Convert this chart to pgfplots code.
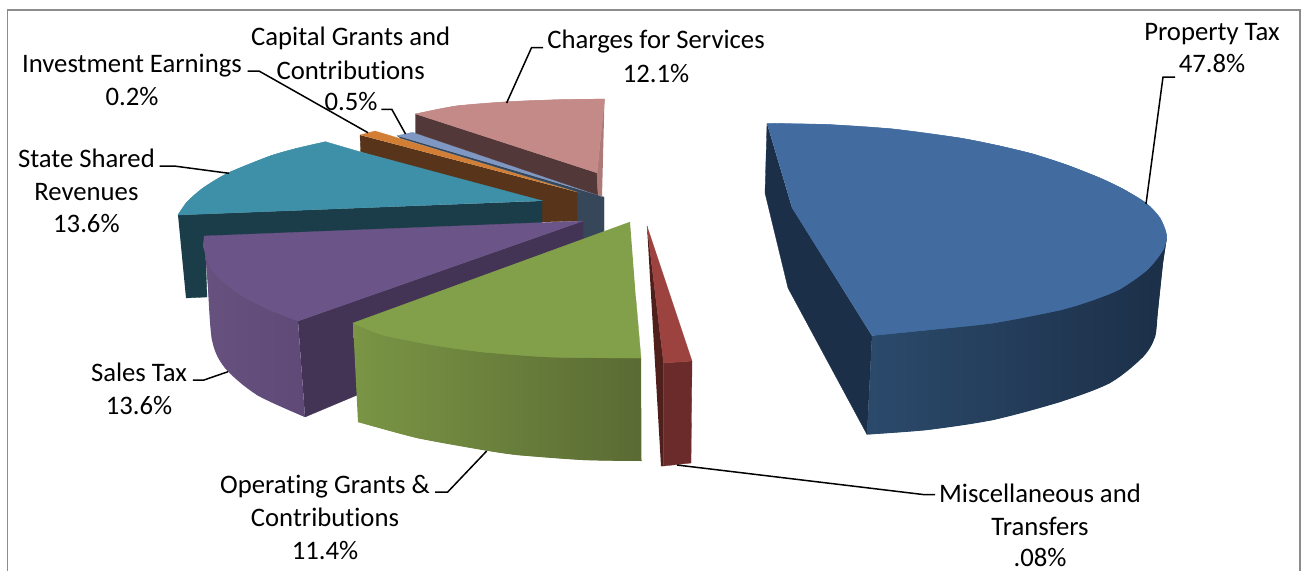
\documentclass[border=0pt]{standalone}
\usepackage{fontspec}
\setmainfont{Carlito}[Ligatures=NoCommon]
\usepackage{pgfplots}
\pgfplotsset{compat=1.18}
\definecolor{bT}{HTML}{426CA0}\definecolor{bW}{HTML}{1C2F48}\definecolor{bL}{HTML}{2B4A6B}
\definecolor{rT}{HTML}{9C4340}\definecolor{rF}{HTML}{6B2B2A}\definecolor{rW}{HTML}{4F1F1C}
\definecolor{gT}{HTML}{82A04A}\definecolor{gL}{HTML}{7A9545}\definecolor{gR}{HTML}{5A6B33}
\definecolor{pT}{HTML}{6B5487}\definecolor{pL}{HTML}{66517F}\definecolor{pF}{HTML}{5F4A77}\definecolor{pW}{HTML}{433354}
\definecolor{tT}{HTML}{3E90A8}\definecolor{tW}{HTML}{1B3C49}
\definecolor{brW}{HTML}{58341A}\definecolor{oT}{HTML}{D27F35}
\definecolor{lbT}{HTML}{7E97C3}\definecolor{slate}{HTML}{37475A}
\definecolor{cT}{HTML}{C38A88}\definecolor{cW}{HTML}{53383A}\definecolor{cS}{HTML}{AE7A78}
\definecolor{frame}{HTML}{8C8C8C}
\newcommand{\poly}[2]{\addplot[draw=#1,fill=#1,line width=.3pt,mark=none,forget plot] coordinates {#2};}
\newcommand{\curve}[2]{\addplot[smooth,draw=#1,fill=#1,line width=.3pt,mark=none,forget plot] coordinates {#2};}
\newcommand{\leader}[1]{\addplot[black,line width=1.5pt,mark=none,forget plot] coordinates {#1};}
\newcommand{\lab}[3]{\node[anchor=base,inner sep=0pt,font=\fontsize{26.7}{30}\selectfont] at (axis cs:#1,#2+9) {#3};}
\begin{document}
\begin{tikzpicture}
\path[use as bounding box] (0,0) rectangle (1302pt,571pt);
\begin{axis}[
  anchor=south west, at={(0,0)},
  scale only axis, width=1302pt, height=571pt,
  xmin=0, xmax=1302, ymin=0, ymax=571, y dir=reverse,
  hide axis, clip=true]
% frame
\addplot[frame,line width=1.6pt,mark=none,forget plot] coordinates {(7.5,571)(7.5,10)(1300,10)(1300,571)};
% centre slate wall
\poly{slate}{(577,192)(604,197)(604,232)(577,245)}
% brown wall and orange top
\poly{brW}{(360,135)(360.7,152)(542,202)(542,222)(577,221)(577,192)}
\poly{oT}{(360,135)(375,131)(577,192)}
% capital grants
\poly{slate}{(397,135.7)(601,196)(598,198)(400,138)}
\poly{lbT}{(397,135.7)(412.5,132.3)(601,196)}
% charges
\poly{cW}{(415.4,114)(597,173)(598,195)(415.4,133)}
\poly{cS}{(604.5,99)(597,173)(598,194)(602,197)}
\curve{cT}{(415.4,114)(456,106)(508,101.7)(556,99.8)(604.5,99)}
\poly{cT}{(415.4,114)(456,106)(508,101.7)(556,99.8)(604.5,99)(597,173)}
% teal
\poly{tW}{(178,215)(542,201)(542,224)(205,238)(207,297)(186,298)}
\curve{tT}{(325.5,141.7)(298,148)(270,156)(228,173)(203,188)(187,202)(178,215)}
\poly{tT}{(325.5,141.7)(360.7,152)(542,200.7)(178,215)(187,202)(203,188)(228,173)(270,156)(298,148)}
% purple
\poly{pW}{(298,321)(583,221)(583,300)(305,417)}
\addplot[smooth,draw=none,left color=pL,right color=pF,mark=none,forget plot] coordinates {(204,238)(207.5,280)(212,340)(225,368)(257,395)(305,417)};
\addplot[draw=none,left color=pL,right color=pF,mark=none,forget plot] coordinates {(204,238)(207.5,280)(212,340)(225,368)(257,395)(305,417)(298,321)(212,270)};
\curve{pT}{(203,245)(212,270)(237,293)(270,310)(298,321)}
\poly{pT}{(204,236)(583,221)(298,321)(270,310)(237,293)(212,270)(203,245)}
% green
\addplot[smooth,draw=none,left color=gL,middle color=gL!50!gR,right color=gR,mark=none,forget plot] coordinates {(641.5,461)(583,460)(517,455)(483,450)(417,438)(358,422)};
\addplot[draw=none,left color=gL,middle color=gL!50!gR,right color=gR,mark=none,forget plot] coordinates {(353,323)(383,335)(641,358)(641.5,461)(583,460)(517,455)(483,450)(417,438)(358,422)};
\curve{gT}{(353,323)(383,335)(433,345)(483,352)(550,357)(641,358)}
\poly{gT}{(630,222)(353,323)(383,335)(433,345)(483,352)(550,357)(641,358)(636,300)}
% red
\poly{rW}{(647,226)(663.5,363)(663.5,466)(661,466)}
\poly{rF}{(663.5,363)(692,361)(691,463)(663.5,466)}
\poly{rT}{(647,226)(692,361)(663.5,363)}
% blue
\poly{bW}{(767,123.5)(765,193)(788,288)(867,434.5)(872,336)(792,207.6)}
\addplot[smooth,draw=none,left color=bL,middle color=bW,right color=bW,mark=none,forget plot] coordinates {(1166.5,240)(1163,263)(1158,310)(1155,337)(1143,357)(1110,383)(1060,402)(993,420)(927,430)(867,434.5)};
\addplot[draw=none,left color=bL,middle color=bW,right color=bW,mark=none,forget plot] coordinates {(872,336)(1166.5,237)(1166.5,240)(1163,263)(1158,310)(1155,337)(1143,357)(1110,383)(1060,402)(993,420)(927,430)(867,434.5)};
\curve{bT}{(767,123.5)(827,124.5)(893,129)(960,138)(1000,146)(1033,154)(1067,165)(1100,178)(1123,189)(1146,203)(1160,218)(1166.5,235)(1163,250)(1147,270)(1120,289)(1093,300)(1060,310)(993,323)(927,330)(872,335.5)}
\poly{bT}{(767,123.5)(827,124.5)(893,129)(960,138)(1000,146)(1033,154)(1067,165)(1100,178)(1123,189)(1146,203)(1160,218)(1166.5,235)(1163,250)(1147,270)(1120,289)(1093,300)(1060,310)(993,323)(927,330)(872,335.5)(792,207.6)}
% leaders
\leader{(1175,77)(1163,77)(1146,204)}
\leader{(935,494.5)(923,494.5)(677,465)}
\leader{(543,47.7)(531.5,47.7)(506.6,103)}
\leader{(381.4,109.3)(391.8,109.3)(405.5,134)}
\leader{(247.5,71)(259,71)(368,132.7)}
\leader{(159.6,166)(174,166)(229,173.3)}
\leader{(192.8,380)(204,380)(228,371.7)}
\leader{(435,492)(447.7,492)(486.7,451)}
% labels
\lab{1212}{31}{Property Tax}
\lab{1212}{63.7}{47.8\%}
\lab{1040}{493.5}{Miscellaneous and}
\lab{1040}{526}{Transfers}
\lab{1040}{557}{.08\%}
\lab{656}{39}{Charges for Services}
\lab{656}{73}{12.1\%}
\lab{350.7}{36.7}{Capital Grants and}
\lab{350.7}{70}{Contributions}
\lab{351}{101.7}{0.5\%}
\lab{132}{63.3}{Investment Earnings}
\lab{132}{96.7}{0.2\%}
\lab{86.4}{158}{State Shared}
\lab{86.4}{191.7}{Revenues}
\lab{86.4}{223}{13.6\%}
\lab{139}{372.7}{Sales Tax}
\lab{139}{405}{13.6\%}
\lab{325}{484}{Operating Grants \&}
\lab{325}{517}{Contributions}
\lab{325}{550}{11.4\%}
\end{axis}
\end{tikzpicture}
\end{document}
